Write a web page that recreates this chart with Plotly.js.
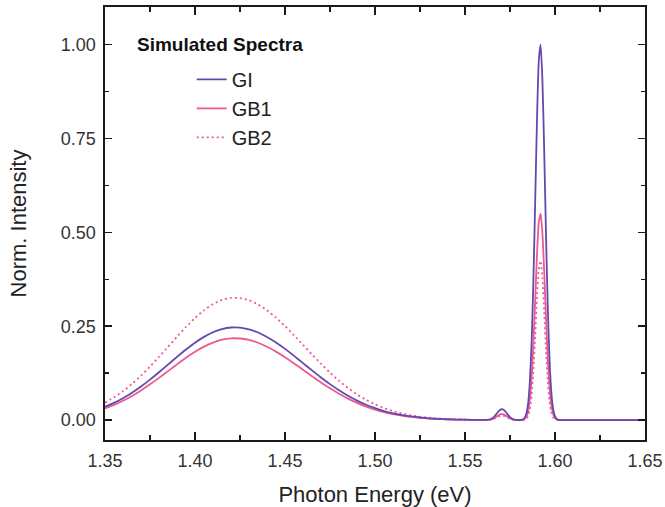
<!DOCTYPE html>
<html>
<head>
<meta charset="utf-8">
<script src="https://cdn.plot.ly/plotly-3.0.1.min.js"></script>
<style>html,body{margin:0;padding:0;background:#fff;}#chart{width:665px;height:507px;}</style>
</head>
<body>
<div id="chart"></div>
<script>
// Photon energy (eV)
const energy = [
  1.350, 1.355, 1.360, 1.365, 1.370, 1.375, 1.380, 1.385, 1.390, 1.395,
  1.400, 1.405, 1.410, 1.415, 1.420, 1.425, 1.430, 1.435, 1.440, 1.445,
  1.450, 1.455, 1.460, 1.465, 1.470, 1.475, 1.480, 1.485, 1.490, 1.495,
  1.500, 1.505, 1.510, 1.515, 1.520, 1.525, 1.530, 1.535, 1.540, 1.545,
  1.550, 1.555,
  1.560, 1.561, 1.562, 1.563, 1.564, 1.565, 1.566, 1.567, 1.568, 1.569,
  1.570, 1.571, 1.572, 1.573, 1.574, 1.575, 1.576, 1.577, 1.578, 1.579,
  1.580, 1.581, 1.582, 1.583, 1.584, 1.585, 1.586, 1.587, 1.588, 1.589,
  1.590, 1.591, 1.592, 1.593, 1.594, 1.595, 1.596, 1.597, 1.598, 1.599,
  1.600, 1.601, 1.602, 1.603, 1.604, 1.605,
  1.61, 1.62, 1.63, 1.64, 1.65
];
const GI = [
  0.0353, 0.0458, 0.0584, 0.0730, 0.0895, 0.1078, 0.1274, 0.1478, 0.1682, 0.1879,
  0.2060, 0.2216, 0.2340, 0.2425, 0.2466, 0.2463, 0.2417, 0.2333, 0.2214, 0.2066,
  0.1896, 0.1711, 0.1518, 0.1324, 0.1135, 0.0958, 0.0794, 0.0647, 0.0519, 0.0409,
  0.0317, 0.0242, 0.0181, 0.0134, 0.0097, 0.0069, 0.0048, 0.0033, 0.0022, 0.0015,
  0.0010, 0.0006,
  0.0004, 0.0004, 0.0006, 0.0010, 0.0022, 0.0043, 0.0081, 0.0133, 0.0195, 0.0251,
  0.0285, 0.0285, 0.0251, 0.0195, 0.0133, 0.0080, 0.0042, 0.0020, 0.0008, 0.0003,
  0.0002, 0.0003, 0.0014, 0.0049, 0.0154, 0.0420, 0.0996, 0.2059, 0.3714, 0.5841,
  0.8007, 0.9570, 1.0000, 0.9060, 0.7175, 0.4954, 0.2982, 0.1565, 0.0716, 0.0286,
  0.0099, 0.0030, 0.0008, 0.0002, 0.0000, 0.0000,
  0, 0, 0, 0, 0
];
const GB1 = [
  0.0312, 0.0404, 0.0515, 0.0644, 0.0790, 0.0952, 0.1124, 0.1304, 0.1484, 0.1658,
  0.1818, 0.1956, 0.2065, 0.2140, 0.2177, 0.2173, 0.2133, 0.2059, 0.1954, 0.1824,
  0.1673, 0.1510, 0.1339, 0.1168, 0.1002, 0.0845, 0.0701, 0.0571, 0.0458, 0.0361,
  0.0280, 0.0213, 0.0160, 0.0118, 0.0085, 0.0061, 0.0043, 0.0029, 0.0020, 0.0013,
  0.0009, 0.0006,
  0.0003, 0.0004, 0.0004, 0.0006, 0.0012, 0.0024, 0.0044, 0.0073, 0.0107, 0.0139,
  0.0157, 0.0157, 0.0139, 0.0107, 0.0073, 0.0044, 0.0023, 0.0011, 0.0004, 0.0002,
  0.0001, 0.0002, 0.0008, 0.0027, 0.0085, 0.0231, 0.0548, 0.1132, 0.2043, 0.3213,
  0.4404, 0.5264, 0.5500, 0.4983, 0.3946, 0.2725, 0.1640, 0.0861, 0.0394, 0.0157,
  0.0055, 0.0017, 0.0004, 0.0001, 0.0000, 0.0000,
  0, 0, 0, 0, 0
];
const GB2 = [
  0.0466, 0.0605, 0.0770, 0.0963, 0.1182, 0.1423, 0.1682, 0.1950, 0.2220, 0.2480,
  0.2719, 0.2925, 0.3089, 0.3201, 0.3255, 0.3250, 0.3190, 0.3079, 0.2923, 0.2727,
  0.2502, 0.2258, 0.2003, 0.1747, 0.1499, 0.1264, 0.1048, 0.0854, 0.0685, 0.0540,
  0.0419, 0.0319, 0.0239, 0.0176, 0.0128, 0.0091, 0.0064, 0.0044, 0.0030, 0.0020,
  0.0013, 0.0008,
  0.0005, 0.0004, 0.0004, 0.0005, 0.0009, 0.0017, 0.0033, 0.0055, 0.0081, 0.0104,
  0.0118, 0.0118, 0.0104, 0.0081, 0.0055, 0.0033, 0.0017, 0.0008, 0.0003, 0.0001,
  0.0000, 0.0000, 0.0002, 0.0008, 0.0033, 0.0105, 0.0287, 0.0671, 0.1336, 0.2265,
  0.3272, 0.4028, 0.4240, 0.3779, 0.2879, 0.1869, 0.1034, 0.0488, 0.0196, 0.0067,
  0.0020, 0.0005, 0.0001, 0.0000, 0.0000, 0.0000,
  0, 0, 0, 0, 0
];
const seriesNames = ['GI', 'GB1', 'GB2'];
const xTickVals = [1.35, 1.40, 1.45, 1.50, 1.55, 1.60, 1.65];
const yTickVals = [0.00, 0.25, 0.50, 0.75, 1.00];
const legendTitle = 'Simulated Spectra';
const xTitle = 'Photon Energy (eV)';
const yTitle = 'Norm. Intensity';

const FONT = 'Liberation Sans, Arial, Helvetica, sans-serif';
const purple = '#6548ad';
const pink = '#ec5a90';

const traces = [
  {x: energy, y: GB2, name: seriesNames[2], type: 'scatter', mode: 'lines', legendrank: 3,
   line: {color: pink, width: 1.8, dash: '2px,3px', shape: 'spline', smoothing: 0.6}},
  {x: energy, y: GB1, name: seriesNames[1], type: 'scatter', mode: 'lines', legendrank: 2,
   line: {color: pink, width: 1.8, shape: 'spline', smoothing: 0.6}},
  {x: energy, y: GI, name: seriesNames[0], type: 'scatter', mode: 'lines', legendrank: 1,
   line: {color: purple, width: 1.8, shape: 'spline', smoothing: 0.6}}
];

const axisCommon = {
  showline: true, linecolor: '#1a1a1a', linewidth: 1.6, mirror: 'allticks',
  ticks: 'inside', tickcolor: '#1a1a1a', tickwidth: 1.6,
  showgrid: false, zeroline: false,
  tickfont: {family: FONT, size: 18, color: '#333'},
  tickformat: '.2f', ticklabelstandoff: 4
};

const layout = {
  width: 665, height: 507,
  margin: {l: 105, r: 20, t: 7, b: 67},
  paper_bgcolor: '#fff', plot_bgcolor: '#fff',
  font: {family: FONT, color: '#222'},
  showlegend: true,
  legend: {
    x: 0.1606, y: 0.878, xanchor: 'left', yanchor: 'top',
    bgcolor: 'rgba(0,0,0,0)', borderwidth: 0,
    font: {family: FONT, size: 20, color: '#222'},
    tracegroupgap: 0
  },
  xaxis: Object.assign({}, axisCommon, {
    range: [1.35, 1.65], tickvals: xTickVals, ticklen: 8,
    minor: {dtick: 0.025, tick0: 1.35, ticks: 'inside', ticklen: 5, tickcolor: '#1a1a1a', tickwidth: 1.4, showgrid: false},
    title: {text: xTitle, font: {family: FONT, size: 22, color: '#222'}, standoff: 16}
  }),
  yaxis: Object.assign({}, axisCommon, {
    range: [-0.053, 1.10], tickvals: yTickVals, ticklen: 7,
    minor: {dtick: 0.125, tick0: 0, ticks: 'inside', ticklen: 4, tickcolor: '#1a1a1a', tickwidth: 1.4, showgrid: false},
    title: {text: yTitle, font: {family: FONT, size: 22, color: '#222'}, standoff: 28}
  }),
  annotations: [{
    text: '<b>' + legendTitle + '</b>', xref: 'paper', yref: 'paper',
    x: 0.0556, y: 0.9145, xanchor: 'left', yanchor: 'middle', showarrow: false,
    font: {family: FONT, size: 19, color: '#111'}
  }]
};

Plotly.newPlot('chart', traces, layout, {displayModeBar: false, staticPlot: true});
</script>
</body>
</html>
